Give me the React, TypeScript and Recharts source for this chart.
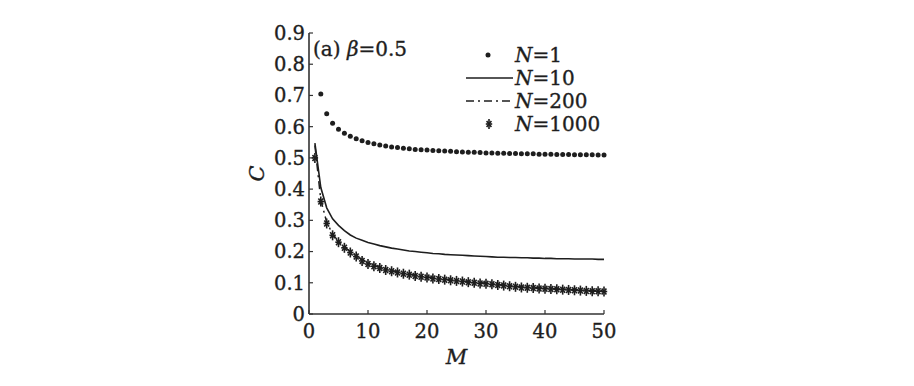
import React from 'react';
import { LineChart, Line, XAxis, YAxis, Legend } from 'recharts';

const mValues = [
  1, 2, 3, 4, 5, 6, 7, 8, 9, 10, 11, 12, 13, 14, 15, 16, 17, 18, 19, 20, 21, 22, 23, 24, 25,
  26, 27, 28, 29, 30, 31, 32, 33, 34, 35, 36, 37, 38, 39, 40, 41, 42, 43, 44, 45, 46, 47, 48, 49, 50,
];

// N=1 starts at M=2 (M=1 lies above the plotted range)
const n1 = [
  null, 0.705, 0.641, 0.611, 0.592, 0.579, 0.569, 0.561, 0.555, 0.549, 0.545, 0.541, 0.538, 0.535, 0.533,
  0.531, 0.529, 0.527, 0.526, 0.525, 0.524, 0.523, 0.522, 0.521, 0.52, 0.519, 0.518, 0.518, 0.517, 0.516,
  0.516, 0.515, 0.515, 0.514, 0.514, 0.513, 0.513, 0.513, 0.512, 0.512, 0.512, 0.511, 0.511, 0.511, 0.51,
  0.51, 0.51, 0.51, 0.509, 0.509,
];

const n10 = [
  0.547, 0.405, 0.34, 0.305, 0.284, 0.267, 0.253, 0.243, 0.236, 0.229, 0.224, 0.219, 0.215, 0.211, 0.208,
  0.205, 0.202, 0.2, 0.198, 0.196, 0.194, 0.193, 0.191, 0.19, 0.189, 0.188, 0.187, 0.186, 0.185, 0.184,
  0.183, 0.182, 0.182, 0.181, 0.181, 0.18, 0.18, 0.179, 0.179, 0.178, 0.178, 0.177, 0.177, 0.177, 0.176,
  0.176, 0.176, 0.176, 0.175, 0.175,
];

const n200 = [
  0.54, 0.365, 0.294, 0.256, 0.233, 0.215, 0.2, 0.187, 0.174, 0.164, 0.156, 0.15, 0.144, 0.139, 0.135,
  0.131, 0.128, 0.124, 0.121, 0.119, 0.116, 0.114, 0.112, 0.11, 0.108, 0.106, 0.104, 0.102, 0.1, 0.099,
  0.097, 0.095, 0.093, 0.091, 0.089, 0.087, 0.086, 0.085, 0.084, 0.083, 0.082, 0.081, 0.08, 0.079, 0.078,
  0.077, 0.076, 0.075, 0.075, 0.074,
];

const n1000 = [
  0.5, 0.36, 0.29, 0.252, 0.23, 0.212, 0.197, 0.184, 0.17, 0.16, 0.153, 0.147, 0.141, 0.137, 0.133,
  0.129, 0.126, 0.122, 0.119, 0.117, 0.114, 0.112, 0.11, 0.108, 0.106, 0.104, 0.102, 0.1, 0.098, 0.097,
  0.095, 0.093, 0.091, 0.089, 0.087, 0.085, 0.084, 0.083, 0.082, 0.081, 0.08, 0.079, 0.078, 0.077, 0.076,
  0.075, 0.074, 0.073, 0.073, 0.072,
];

const xTicks = [0, 10, 20, 30, 40, 50];
const yTicks = [0, 0.1, 0.2, 0.3, 0.4, 0.5, 0.6, 0.7, 0.8, 0.9];

const data = mValues.map((m, i) => ({ M: m, n1: n1[i], n10: n10[i], n200: n200[i], n1000: n1000[i] }));

const INK = '#1e1e1e';
const FONT = '"DejaVu Serif", "Liberation Serif", serif';

const Dot = (props: any) => {
  const { cx, cy, value } = props;
  if (value == null || cx == null || cy == null) return <g />;
  return <circle cx={cx} cy={cy} r={2.5} fill={INK} />;
};

const Star = (props: any) => {
  const { cx, cy, value } = props;
  if (value == null || cx == null || cy == null) return <g />;
  return (
    <g stroke={INK} strokeWidth={1.6}>
      <line x1={cx} y1={cy - 5} x2={cx} y2={cy + 5} />
      <line x1={cx - 3.2} y1={cy} x2={cx + 3.2} y2={cy} />
      <line x1={cx - 2.4} y1={cy - 3} x2={cx + 2.4} y2={cy + 3} />
      <line x1={cx - 2.4} y1={cy + 3} x2={cx + 2.4} y2={cy - 3} />
    </g>
  );
};

const legendItems = [
  { key: 'n1', label: '1', kind: 'dot' },
  { key: 'n10', label: '10', kind: 'solid' },
  { key: 'n200', label: '200', kind: 'dashdot' },
  { key: 'n1000', label: '1000', kind: 'star' },
];

const textHeavy = { WebkitTextStroke: '0.35px #1e1e1e' } as React.CSSProperties;

const renderLegend = () => (
  <div style={{ fontFamily: FONT, fontSize: 20, color: INK, ...textHeavy }}>
    {legendItems.map((it) => (
      <div key={it.key} style={{ display: 'flex', alignItems: 'center', height: 23 }}>
        <svg width={48} height={20} style={{ marginRight: 1 }}>
          {it.kind === 'dot' && <circle cx={22} cy={10} r={2.5} fill={INK} />}
          {it.kind === 'solid' && <line x1={0} y1={10} x2={47} y2={10} stroke={INK} strokeWidth={1.5} />}
          {it.kind === 'dashdot' && (
            <line x1={0} y1={10} x2={47} y2={10} stroke={INK} strokeWidth={1.5} strokeDasharray="8 4 2 4" />
          )}
          {it.kind === 'star' && (
            <g stroke={INK} strokeWidth={1.6}>
              <line x1={23} y1={5} x2={23} y2={15} />
              <line x1={19.8} y1={10} x2={26.2} y2={10} />
              <line x1={20.6} y1={7} x2={25.4} y2={13} />
              <line x1={20.6} y1={13} x2={25.4} y2={7} />
            </g>
          )}
        </svg>
        <span>
          <i>N</i>={it.label}
        </span>
      </div>
    ))}
  </div>
);

const axisLine = { stroke: '#333', strokeWidth: 1.6 };
const tickStyle = { fontFamily: FONT, fontSize: 19.5, fill: INK, stroke: INK, strokeWidth: 0.35 };
const labelStyle = { fontFamily: FONT, fontSize: 21, fontStyle: 'italic', fill: INK, stroke: INK, strokeWidth: 0.35 };

export default function App() {
  return (
    <div style={{ position: 'absolute', left: 0, top: 0, width: 914, height: 386, background: '#fff' }}>
      <LineChart width={914} height={386} data={data} margin={{ top: 33, right: 310, bottom: 42, left: 259 }}>
        <XAxis
          dataKey="M"
          type="number"
          domain={[0, 50]}
          ticks={xTicks}
          tickSize={-4}
          tickMargin={14}
          height={30}
          axisLine={axisLine}
          tickLine={{ stroke: '#333', strokeWidth: 1.2 }}
          tick={tickStyle}
          label={{ value: 'M', position: 'insideBottom', offset: -20, style: labelStyle }}
        />
        <XAxis xAxisId="top" orientation="top" dataKey="M" type="number" domain={[0, 50]} height={0} tick={false} tickLine={false} axisLine={axisLine} />
        <YAxis
          type="number"
          domain={[0, 0.9]}
          ticks={yTicks}
          width={50}
          tickSize={-4}
          tickMargin={8}
          axisLine={axisLine}
          tickLine={{ stroke: '#333', strokeWidth: 1.2 }}
          tick={tickStyle}
          tickFormatter={(v: number) => (v === 0 ? '0' : v.toFixed(1))}
          label={{ value: 'C', angle: -90, position: 'insideLeft', offset: -2, style: { ...labelStyle, textAnchor: 'middle' } }}
        />
        <YAxis yAxisId="right" orientation="right" type="number" domain={[0, 0.9]} width={0} tick={false} tickLine={false} axisLine={axisLine} />
        <Line dataKey="n10" stroke={INK} strokeWidth={1.6} dot={false} isAnimationActive={false} />
        <Line dataKey="n200" stroke={INK} strokeWidth={1.5} strokeDasharray="8 4 2 4" dot={false} isAnimationActive={false} />
        <Line dataKey="n1000" stroke="none" dot={<Star />} activeDot={false} isAnimationActive={false} />
        <Line dataKey="n1" stroke="none" dot={<Dot />} activeDot={false} isAnimationActive={false} />
        <Legend
          layout="vertical"
          align="center"
          verticalAlign="middle"
          content={renderLegend}
          wrapperStyle={{ position: 'absolute', left: 466, top: 43, width: 140 }}
        />
      </LineChart>
      <div style={{ position: 'absolute', left: 313, top: 37, fontFamily: FONT, fontSize: 20, color: INK, ...textHeavy }}>
        (a) <i>β</i>=0.5
      </div>
    </div>
  );
}
